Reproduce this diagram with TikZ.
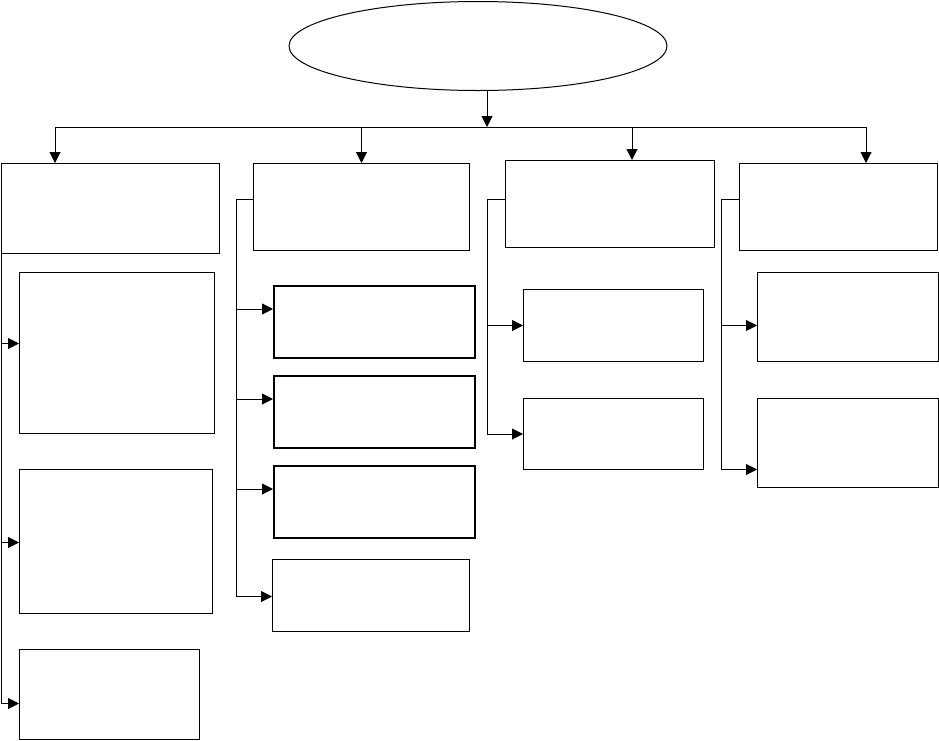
\documentclass[tikz,border=0pt]{standalone}
\usetikzlibrary{arrows.meta,shapes.geometric}
\begin{document}
\begin{tikzpicture}[x=1pt,y=-1pt,line width=1pt,
  box/.style={draw,rectangle,inner sep=0pt,anchor=north west},
  thickbox/.style={box,line width=2pt},
  arr/.style={-{Triangle[length=11pt,width=11pt]}}]
\useasboundingbox (0,0) rectangle (939,740);
% root
\node[draw,ellipse,inner sep=0pt,minimum width=378pt,minimum height=89pt] (e) at (478,46) {};
% headers
\node[box,minimum width=218pt,minimum height=90pt] (h1) at (1,163) {};
\node[box,minimum width=216pt,minimum height=87pt] (h2) at (253,163) {};
\node[box,minimum width=209pt,minimum height=87pt] (h3) at (505,160) {};
\node[box,minimum width=198pt,minimum height=87pt] (h4) at (739,163) {};
% column 1 children
\node[box,minimum width=195pt,minimum height=161pt] (c11) at (19,272) {};
\node[box,minimum width=193pt,minimum height=144pt] (c12) at (19,469) {};
\node[box,minimum width=180pt,minimum height=90pt] (c13) at (19,649) {};
% column 2 children
\node[thickbox,minimum width=201pt,minimum height=72pt] (c21) at (273,285) {};
\node[thickbox,minimum width=201pt,minimum height=72pt] (c22) at (273,375) {};
\node[thickbox,minimum width=201pt,minimum height=72pt] (c23) at (273,465) {};
\node[box,minimum width=197pt,minimum height=72pt] (c24) at (272,559) {};
% column 3 children
\node[box,minimum width=180pt,minimum height=72pt] (c31) at (523,289) {};
\node[box,minimum width=180pt,minimum height=71pt] (c32) at (523,398) {};
% column 4 children
\node[box,minimum width=181pt,minimum height=89pt] (c41) at (757,272) {};
\node[box,minimum width=181pt,minimum height=89pt] (c42) at (757,398) {};
% top connectors
\coordinate (hb) at (487,127);
\coordinate (hl) at (55,127);
\coordinate (hr) at (866,127);
\coordinate (h3t) at (632,127);
\draw[arr] (e.south -| hb) -- (hb);
\draw (hl) -- (hr);
\draw[arr] (hl) -- (hl |- h1.north);
\draw[arr] (h2.north |- hl) -- (h2.north);
\draw[arr] (h3t) -- (h3t |- h3.north);
\draw[arr] (hr) -- (hr |- h4.north);
% column 1 connectors
\draw[arr] (h1.south west) |- ([yshift=9.5pt]c11.west);
\draw[arr] (h1.south west) |- ([yshift=-1pt]c12.west);
\draw[arr] (h1.south west) |- ([yshift=-9pt]c13.west);
% column 2 connectors
\coordinate (j2) at (236,199);
\draw (h2.west |- j2) -- (j2);
\draw[arr] (j2) |- ([yshift=13pt]c21.west);
\draw[arr] (j2) |- ([yshift=13pt]c22.west);
\draw[arr] (j2) |- ([yshift=13pt]c23.west);
\draw[arr] (j2) |- ([yshift=-1pt]c24.west);
% column 3 connectors
\coordinate (j3) at (487,199);
\draw (h3.west |- j3) -- (j3);
\draw[arr] (j3) |- (c31.west);
\draw[arr] (j3) |- (c32.west);
% column 4 connectors
\coordinate (j4) at (721,199);
\draw (h4.west |- j4) -- (j4);
\draw[arr] (j4) |- ([yshift=-8.5pt]c41.west);
\draw[arr] (j4) |- ([yshift=-26.5pt]c42.west);
\end{tikzpicture}
\end{document}
